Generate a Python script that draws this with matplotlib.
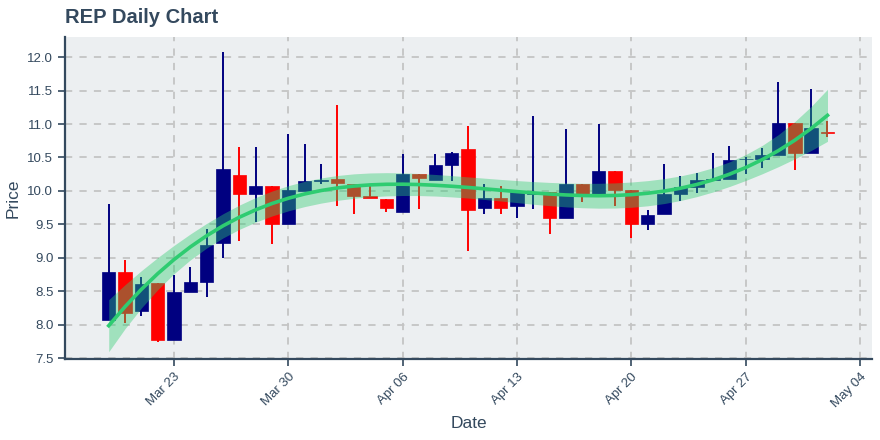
import numpy as np
import pandas as pd
import matplotlib
matplotlib.use("Agg")
import matplotlib.pyplot as plt
import matplotlib.dates as mdates

plt.rcParams['font.family'] = ['Liberation Sans', 'DejaVu Sans']

# daily OHLC values (Mar 19 .. May 02)
dates = pd.date_range("2020-03-19", "2020-05-02", freq="D")
opens = [8.08, 8.79, 8.20, 8.63, 7.77, 8.49, 8.64, 9.23, 10.24, 9.96,
         10.07, 9.51, 10.00, 10.15, 10.18, 10.11, 9.92, 9.88, 9.69, 10.25,
         10.17, 10.39, 10.63, 9.75, 9.90, 9.77, 9.96, 9.98, 9.60, 10.10,
         9.96, 10.30, 10.01, 9.51, 9.65, 9.96, 10.06, 10.17, 10.18, 10.47,
         10.48, 10.54, 11.01, 10.57, 10.88]
highs = [9.81, 8.97, 8.71, 8.63, 8.75, 8.86, 9.43, 12.07, 10.65, 10.65,
         10.07, 10.85, 10.70, 10.41, 11.28, 10.11, 10.11, 9.88, 10.55, 10.25,
         10.55, 10.58, 10.97, 10.10, 10.08, 9.98, 11.12, 9.98, 10.93, 10.10,
         11.00, 10.30, 10.01, 9.71, 10.40, 10.23, 10.27, 10.57, 10.67, 10.50,
         10.64, 11.62, 11.01, 11.52, 11.05]
lows = [8.08, 8.03, 8.13, 7.75, 7.77, 8.49, 8.42, 9.00, 9.25, 9.53,
        9.21, 9.51, 10.00, 10.10, 9.78, 9.65, 9.89, 9.69, 9.69, 9.73,
        10.17, 10.15, 9.11, 9.65, 9.65, 9.60, 9.73, 9.36, 9.60, 9.83,
        9.96, 9.78, 9.30, 9.41, 9.65, 9.85, 9.97, 10.15, 10.18, 10.26,
        10.35, 10.54, 10.32, 10.57, 10.81]
closes = [8.79, 8.18, 8.61, 7.77, 8.49, 8.64, 9.19, 10.33, 9.96, 10.08,
          9.51, 10.01, 10.15, 10.17, 10.12, 9.92, 9.89, 9.74, 10.25, 10.20,
          10.39, 10.57, 9.71, 9.90, 9.75, 9.98, 9.98, 9.60, 10.10, 9.96,
          10.30, 10.01, 9.51, 9.64, 9.96, 10.06, 10.16, 10.18, 10.46, 10.48,
          10.54, 11.01, 10.57, 10.94, 10.86]
tick_days = ["2020-03-23", "2020-03-30", "2020-04-06", "2020-04-13",
             "2020-04-20", "2020-04-27", "2020-05-04"]

text_color = '#34495e'
up_color = '#000080'
down_color = '#ff0000'
trend_color = '#2ecc71'

o = np.array(opens)
h = np.array(highs)
l = np.array(lows)
c = np.array(closes)
x = mdates.date2num(dates)
colors = np.where(c >= o, up_color, down_color)

fig = plt.figure(figsize=(8.8, 4.4), dpi=100)
ax = fig.add_axes([0.074, 0.184, 0.917, 0.732])
ax.set_facecolor('#eceff1')

# wicks and bodies
ax.vlines(x, l, h, colors=colors, linewidth=1.4, zorder=2)
body_low = np.minimum(o, c)
body_h = np.maximum(np.abs(c - o), 0.012)
ax.bar(x, body_h, bottom=body_low, width=0.82, color=colors,
       edgecolor=colors, linewidth=0.5, zorder=3)

# cubic trend of the closes with 95% confidence band
t = np.arange(len(c), dtype=float)
X = np.vander(t, 4)
coef = np.linalg.lstsq(X, c, rcond=None)[0]
fit = X @ coef
s2 = np.sum((c - fit) ** 2) / (len(c) - 4)
cov = np.linalg.inv(X.T @ X)
se = np.sqrt(s2 * np.einsum('ij,jk,ik->i', X, cov, X))
band = 2.015 * se
ax.fill_between(x, fit - band, fit + band, color=trend_color, alpha=0.4,
                linewidth=0, zorder=4)
ax.plot(x, fit, color=trend_color, linewidth=2.6, zorder=5)

tick_x = mdates.date2num(pd.to_datetime(tick_days))
ax.set_xlim(tick_x[0] - 6.67, tick_x[-1] + 0.73)
ax.set_ylim(7.49, 12.3)
ax.set_yticks(np.arange(7.5, 12.01, 0.5))
ax.set_xticks(tick_x)
ax.set_xticklabels([d.strftime("%b %d") for d in pd.to_datetime(tick_days)])
ax.yaxis.set_major_formatter(matplotlib.ticker.FormatStrFormatter('%.1f'))

ax.grid(True, color='#c4c4c4', linestyle=(0, (4, 4)), linewidth=1.3)
ax.set_axisbelow(True)
for side in ['top', 'right']:
    ax.spines[side].set_visible(False)
for side in ['left', 'bottom']:
    ax.spines[side].set_color(text_color)
    ax.spines[side].set_linewidth(1.6)

ax.tick_params(axis='both', colors=text_color, labelcolor=text_color,
               labelsize=9.5, length=5, width=1.2)
plt.setp(ax.get_xticklabels(), rotation=45, ha='right', rotation_mode='anchor')

ax.set_xlabel('Date', fontsize=12.5, color=text_color, labelpad=4)
ax.set_ylabel('Price', fontsize=12.5, color=text_color, labelpad=5)
fig.text(0.074, 0.96, 'REP Daily Chart', fontsize=14.5, fontweight='bold',
         color=text_color, ha='left', va='center')

fig.savefig('out.png', dpi=100, facecolor='white')
